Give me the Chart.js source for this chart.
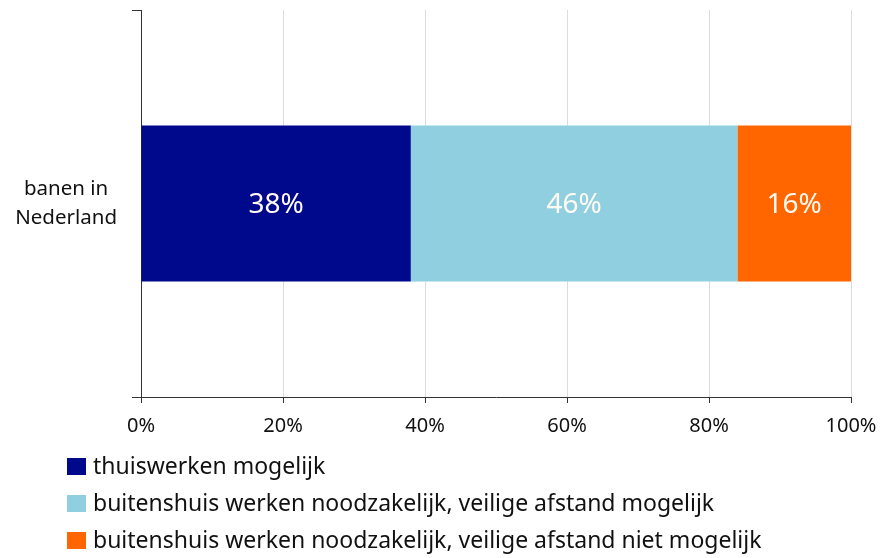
<!DOCTYPE html>
<html>
<head>
<meta charset="utf-8">
<script src="https://cdn.jsdelivr.net/npm/chart.js@4/dist/chart.umd.min.js"></script>
<style>
    body { margin: 0; background: #fff; font-family: "Noto Sans", sans-serif; }
    #wrap { position: relative; width: 883px; height: 558px; }
    #legend { position: absolute; left: 67px; top: 447px; }
    .legend-item { height: 37px; line-height: 37px; font-size: 23px; color: #111; white-space: nowrap; }
    .legend-box { display: inline-block; width: 19px; height: 17px; margin-right: 7px; vertical-align: -1px; }
</style>
</head>
<body>
<div id="wrap">
    <canvas id="chart" width="883" height="558"></canvas>
    <div id="legend"></div>
</div>
<script>
// Chart data
const categories = [['banen in', 'Nederland']];
const seriesNames = [
    'thuiswerken mogelijk',
    'buitenshuis werken noodzakelijk, veilige afstand mogelijk',
    'buitenshuis werken noodzakelijk, veilige afstand niet mogelijk'
];
const thuiswerken = [38];
const afstandMogelijk = [46];
const afstandNietMogelijk = [16];
const seriesColors = ['#00098c', '#8fcfe0', '#ff6600'];

// Draw percentage labels in the middle of each segment
const segmentLabels = {
    id: 'segmentLabels',
    afterDatasetsDraw(chart) {
        const ctx = chart.ctx;
        ctx.save();
        ctx.fillStyle = '#fffbf2';
        ctx.font = '28px "Noto Sans"';
        ctx.textAlign = 'center';
        ctx.textBaseline = 'middle';
        chart.data.datasets.forEach((ds, i) => {
            chart.getDatasetMeta(i).data.forEach((bar, j) => {
                const p = bar.getCenterPoint();
                ctx.fillText(ds.data[j] + '%', p.x, p.y + 2);
            });
        });
        ctx.restore();
    }
};

const allSeries = [thuiswerken, afstandMogelijk, afstandNietMogelijk];

const ctx = document.getElementById('chart').getContext('2d');
const chart = new Chart(ctx, {
    type: 'bar',
    data: {
        labels: categories,
        datasets: allSeries.map((data, i) => ({
            label: seriesNames[i],
            data: data,
            backgroundColor: seriesColors[i],
            borderWidth: 0,
            categoryPercentage: 1,
            barPercentage: 0.403
        }))
    },
    options: {
        indexAxis: 'y',
        responsive: false,
        animation: false,
        layout: { padding: { top: 10, right: 32, bottom: 121, left: 0 } },
        plugins: {
            legend: { display: false },
            tooltip: { enabled: false }
        },
        scales: {
            x: {
                stacked: true,
                min: 0,
                max: 100,
                afterFit: (scale) => {
                    scale.height = 40;
                    scale.paddingLeft = 0;
                    scale.paddingRight = 0;
                },
                ticks: {
                    stepSize: 20,
                    padding: 11,
                    color: '#111',
                    font: { family: 'Noto Sans', size: 20 },
                    callback: (v) => v + '%'
                },
                grid: { color: '#dcdcdc', tickColor: '#333', tickLength: 6 },
                border: { color: '#333' }
            },
            y: {
                stacked: true,
                afterFit: (scale) => {
                    scale.width = 141;
                    scale.paddingTop = 0;
                    scale.paddingBottom = 0;
                },
                ticks: {
                    crossAlign: 'center',
                    padding: 15,
                    color: '#111',
                    font: { family: 'Noto Sans', size: 20.5, lineHeight: 1.42 }
                },
                grid: { drawOnChartArea: false, tickColor: '#333', tickLength: 9 },
                border: { color: '#333' }
            }
        }
    },
    plugins: [segmentLabels]
});

// HTML legend
const legend = document.getElementById('legend');
seriesNames.forEach((name, i) => {
    const item = document.createElement('div');
    item.className = 'legend-item';
    item.innerHTML = `<span class="legend-box" style="background:${seriesColors[i]}"></span>${name}`;
    legend.appendChild(item);
});
</script>
</body>
</html>
